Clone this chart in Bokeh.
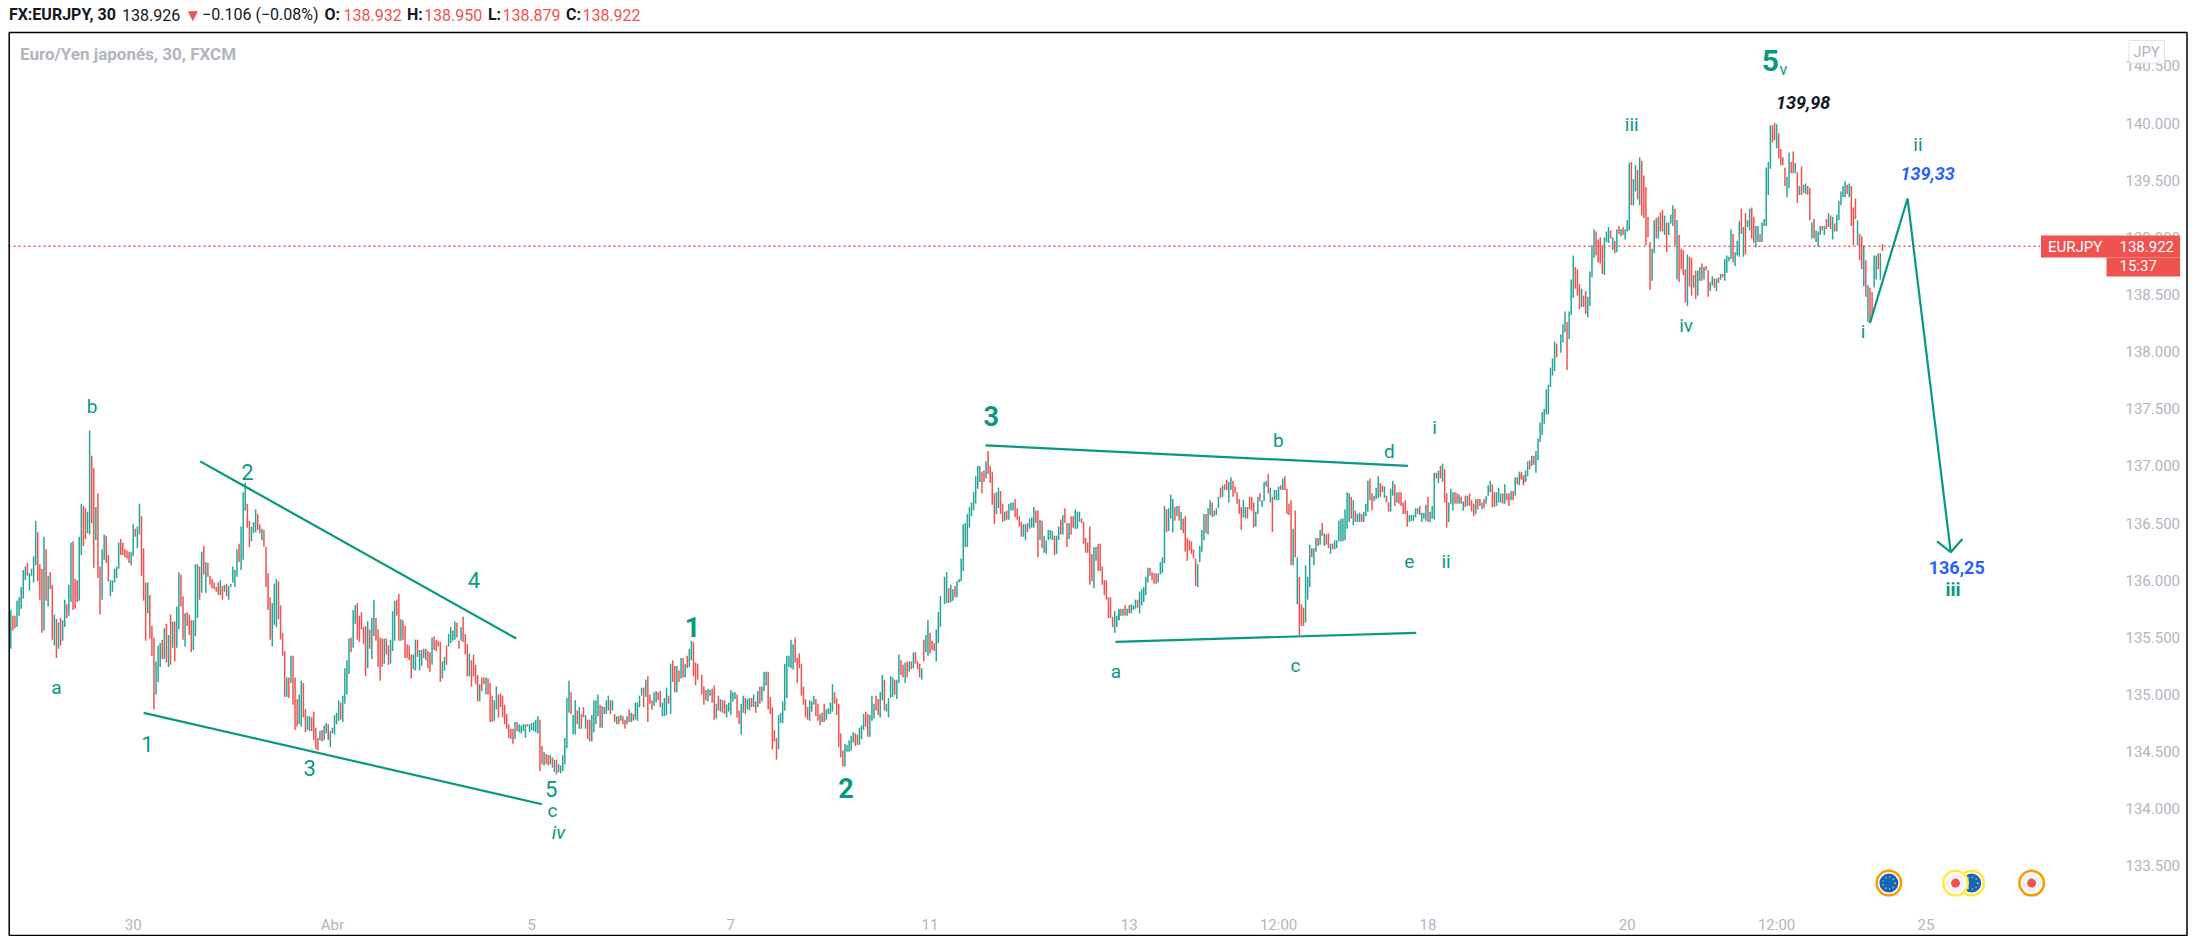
from bokeh.plotting import figure
from bokeh.embed import file_html
from bokeh.resources import INLINE
from bokeh.models import (ColumnDataSource, FixedTicker, Label, BoxAnnotation,
                          NumeralTickFormatter)
from bokeh.core.properties import value

# Price bars: each pair is open, close (open > close draws red)
bars_a = [135.40,135.74, 135.69,135.56, 135.69,135.58, 135.59,135.82, 135.69,135.85, 135.75,135.94, 135.84,136.09, 136.00,136.12,
136.15,136.04, 135.91,136.06, 136.04,136.10, 135.98,136.21, 136.13,136.52, 136.42,135.99, 136.14,135.83, 136.10,135.54,
135.56,136.38, 136.27,135.82, 135.77,136.04, 136.07,135.92, 135.96,135.48, 135.43,135.70, 135.66,135.32, 135.40,135.63,
135.67,135.43, 135.47,135.65, 135.59,135.83, 135.79,135.67, 135.69,135.96, 135.81,136.33, 136.34,135.74, 136.01,135.75,
136.00,135.81, 135.82,136.38, 136.22,136.67, 136.65,136.30, 136.63,136.36, 136.41,136.60, 136.40,137.31, 137.09,136.50,
136.98,136.11, 136.35,136.64, 136.76,136.02, 136.12,135.70, 135.83,136.27, 136.18,136.40, 136.39,136.15, 136.22,135.99,
135.86,136.00, 135.90,136.00, 135.98,136.10, 136.02,136.12, 136.10,136.33, 136.36,136.22, 136.33,136.22, 136.27,136.20,
136.26,136.19, 136.25,136.15, 136.13,136.25, 136.21,136.49, 136.45,136.38, 136.28,136.47, 136.40,136.67, 136.56,136.04,
136.28,135.82, 135.98,135.47, 135.71,135.98, 135.87,135.49, 135.60,135.34, 135.50,134.87, 135.00,135.29, 135.11,135.43,
135.24,135.45, 135.48,135.31, 135.31,135.58, 135.62,135.28, 135.24,135.52, 135.70,135.26, 135.41,135.64, 135.64,135.29,
135.41,135.77, 135.57,136.07, 136.05,135.77, 135.86,135.48, 135.42,135.71, 135.72,135.60, 135.70,135.52, 135.65,135.37,
135.39,135.65, 135.51,136.14, 135.67,136.14, 136.12,135.83, 135.89,136.25, 136.30,136.05, 135.89,136.16, 136.15,136.03,
136.04,135.96, 136.01,135.93, 135.98,135.92, 135.94,135.90, 135.98,135.87, 135.87,136.00, 135.95,135.83, 135.90,135.96,
135.97,135.86, 135.83,135.95, 135.94,135.97, 135.98,136.12, 135.94,136.09, 136.03,136.27, 136.32,136.16, 136.09,136.47,
136.18,136.77, 136.61,136.85, 136.67,136.46, 136.52,136.29, 136.34,136.47, 136.41,136.51, 136.42,136.62, 136.58,136.44,
136.49,136.41, 136.35,136.45, 136.44,136.29, 136.29,135.94, 136.06,135.74, 135.85,135.48, 135.42,135.80, 135.61,135.97,
135.59,136.01, 135.99,135.66, 135.78,135.48, 135.54,135.34, 135.38,134.98, 134.98,135.15, 135.15,134.97, 135.10,135.34,
135.34,134.91, 135.15,134.69, 134.96,134.72, 134.74,135.00, 134.72,135.12, 135.10,134.80, 134.87,134.67, 134.69,134.81]

bars_b = [134.68,134.81, 134.80,134.68, 134.85,134.60, 134.71,134.52, 134.62,134.51, 134.60,134.68, 134.69,134.59, 134.60,134.73,
134.66,134.75, 134.74,134.60, 134.54,134.68, 134.66,134.71, 134.65,134.82, 134.74,134.84, 134.77,134.95, 134.93,134.78,
134.76,134.99, 134.92,135.23, 135.00,135.30, 135.18,135.49, 135.50,135.37, 135.41,135.74, 135.62,135.78, 135.80,135.48,
135.69,135.46, 135.72,135.57, 135.59,135.44, 135.60,135.16, 135.23,135.64, 135.57,135.40, 135.31,135.67, 135.51,135.83,
135.67,135.47, 135.57,135.24, 135.50,135.12, 135.49,135.24, 135.27,135.49, 135.49,135.35, 135.43,135.26, 135.27,135.48,
135.38,135.73, 135.47,135.82, 135.83,135.69, 135.88,135.47, 135.47,135.66, 135.65,135.48, 135.60,135.32, 135.44,135.32,
135.43,135.30, 135.35,135.14, 135.22,135.35, 135.21,135.48, 135.48,135.33, 135.21,135.39, 135.25,135.39, 135.40,135.32,
135.30,135.40, 135.38,135.23, 135.37,135.20, 135.26,135.50, 135.51,135.39, 135.48,135.38, 135.47,135.42, 135.46,135.11,
135.14,135.29, 135.21,135.33, 135.43,135.26, 135.42,135.53, 135.45,135.59, 135.47,135.56, 135.48,135.64, 135.63,135.50,
135.47,135.40, 135.47,135.59, 135.68,135.46, 135.53,135.35, 135.44,135.16, 135.16,135.36, 135.30,135.07, 135.35,135.16,
135.26,135.09, 135.17,134.94, 134.94,135.09, 135.15,135.03, 135.15,135.09, 135.00,135.15, 135.14,135.00, 135.10,134.76,
134.99,134.76, 134.77,134.95, 134.87,135.07, 135.00,134.80, 135.01,134.89, 134.99,134.80, 134.91,134.74, 134.83,134.70,
134.74,134.62, 134.70,134.61, 134.70,134.57, 134.61,134.76, 134.76,134.68, 134.67,134.74, 134.66,134.73, 134.68,134.74,
134.62,134.74, 134.74,134.72, 134.67,134.74, 134.69,134.75, 134.68,134.76, 134.67,134.78, 134.66,134.81, 134.78,134.33,
134.55,134.39, 134.38,134.50, 134.48,134.39, 134.47,134.38, 134.39,134.47, 134.45,134.36, 134.32,134.43, 134.43,134.30,
134.32,134.39, 134.31,134.38, 134.33,134.47, 134.39,134.62, 134.53,134.97, 134.84,135.12, 135.02,134.83, 134.65,134.82,
134.65,134.95, 134.86,134.74, 134.70,134.89, 134.83,134.70, 134.89,134.80, 134.70,134.82, 134.78,134.61, 134.78,134.59,
134.59,134.82, 134.67,134.95, 134.74,134.95, 134.81,135.00, 134.91,134.71, 134.71,134.90, 134.89,134.83, 134.83,134.95,
134.86,134.99, 134.95,134.83, 134.86,134.95, 134.83,134.76, 134.74,134.81, 134.81,134.74, 134.77,134.82, 134.81,134.74,
134.78,134.70, 134.74,134.81, 134.87,134.76, 134.76,134.84, 134.83,134.77, 134.78,134.93, 134.77,134.93, 134.89,134.99,
134.99,135.06, 135.06,134.89, 134.98,135.13, 135.16,134.76, 135.00,134.92, 134.95,134.87, 134.90,135.02, 134.93,135.03,
135.02,134.95, 135.03,134.89, 134.81,134.93, 134.81,134.97, 134.82,135.06, 134.99,134.92, 134.83,135.27, 135.30,135.11,
135.25,135.02, 135.02,135.25, 135.21,135.11, 135.14,135.32, 135.32,135.15, 135.15,135.27, 135.34,135.23, 135.24,135.40,
135.30,135.47, 135.46,135.16, 135.28,135.08, 135.27,135.13]

bars_c = [135.17,135.00, 135.07,134.91, 135.04,134.95, 134.94,135.05, 134.99,135.04, 135.05,134.93, 135.08,134.78, 134.79,134.92,
134.99,134.86, 134.85,134.96, 134.95,134.84, 134.95,134.83, 134.80,134.91, 134.85,134.93, 134.82,135.04, 134.94,135.02,
134.96,135.02, 135.00,134.80, 134.86,134.74, 134.65,134.92, 134.84,134.99, 134.97,134.83, 134.87,134.96, 134.86,134.97,
134.97,134.89, 134.89,135.00, 134.94,134.84, 134.89,135.03, 135.07,134.92, 134.94,135.07, 135.03,135.20, 135.08,135.20,
135.20,134.87, 134.98,134.83, 134.89,134.52, 134.69,134.59, 134.62,134.43, 134.52,134.82, 134.75,134.84, 134.75,134.94,
134.86,135.27, 134.97,135.34, 135.24,135.34, 135.23,135.48, 135.22,135.44, 135.50,135.28, 135.32,135.10, 135.36,135.23,
135.27,134.99, 135.07,134.91, 134.96,134.80, 134.89,134.78, 134.77,134.95, 134.85,134.94, 134.91,134.99, 134.96,134.81,
134.92,134.77, 134.83,134.73, 134.76,134.84, 134.92,134.76, 134.78,134.87, 134.83,134.88, 134.83,134.93, 134.85,135.09,
135.02,134.92, 134.97,134.82, 134.92,134.54, 134.66,134.45, 134.51,134.37, 134.37,134.57, 134.50,134.56, 134.50,134.60,
134.51,134.64, 134.58,134.67, 134.66,134.55, 134.65,134.56, 134.56,134.71, 134.61,134.73, 134.69,134.83, 134.85,134.72,
134.83,134.63, 134.63,134.82, 134.77,134.99, 134.79,134.92, 134.99,134.86, 134.96,134.82, 134.80,135.02, 134.95,135.17,
135.13,134.86, 134.85,134.92, 134.80,134.97, 134.97,135.16, 134.98,135.15, 135.13,135.00, 134.96,135.13, 135.10,135.35,
135.30,135.17, 135.26,135.15, 135.10,135.28, 135.29,135.15, 135.20,135.29, 135.29,135.22, 135.23,135.37, 135.37,135.27,
135.29,135.22, 135.27,135.15, 135.13,135.23, 135.48,135.29, 135.37,135.52, 135.34,135.65, 135.54,135.36, 135.47,135.39,
135.45,135.38, 135.29,135.57, 135.45,135.72, 135.59,135.86]

bars_d = [135.79,136.03, 135.80,136.07, 135.93,135.80, 135.81,135.96, 135.82,135.92, 135.95,135.85, 135.85,135.99, 135.98,136.01,
135.99,136.19, 136.08,136.49, 136.29,136.50, 136.29,136.58, 136.46,136.64, 136.56,136.68, 136.61,136.77, 136.67,136.91,
136.80,137.00, 136.86,137.00, 136.95,136.76, 136.96,136.86, 136.89,137.04, 137.13,136.93, 137.00,136.85, 136.95,136.66,
136.76,136.49, 136.58,136.77, 136.63,136.81, 136.78,136.58, 136.67,136.51, 136.52,136.60, 136.61,136.53, 136.53,136.67,
136.61,136.68, 136.61,136.68, 136.71,136.55, 136.63,136.53, 136.56,136.47, 136.51,136.38, 136.38,136.49, 136.35,136.49,
136.50,136.42, 136.45,136.54, 136.46,136.55, 136.46,136.64, 136.61,136.50, 136.61,136.20, 136.35,136.53, 136.52,136.28,
136.24,136.39, 136.23,136.35, 136.35,136.44, 136.36,136.44, 136.35,136.43, 136.39,136.22, 136.23,136.39, 136.35,136.47,
136.53,136.40, 136.40,136.57, 136.63,136.50, 136.50,136.29, 136.36,136.50, 136.56,136.40, 136.56,136.46, 136.45,136.62,
136.45,136.60, 136.51,136.60, 136.54,136.50, 136.51,136.32, 136.37,136.24, 136.33,136.24, 136.47,135.96, 136.23,135.99,
135.93,136.29, 136.17,136.29, 136.32,136.08, 136.32,136.08, 136.12,135.96, 136.00,135.87, 136.00,135.83, 135.85,135.67,
135.85,135.67, 135.68,135.59, 135.54,135.73, 135.59,135.69, 135.65,135.74]

bars_e = [135.65,135.75, 135.75,135.69, 135.69,135.75, 135.78,135.69, 135.69,135.75, 135.78,135.71, 135.71,135.79, 135.74,135.78,
135.75,135.83, 135.83,135.76, 135.71,135.90, 135.78,135.92, 135.81,135.94, 135.87,136.03, 135.98,136.11, 136.11,136.04,
136.07,136.00, 136.06,135.97, 136.06,135.97, 135.98,136.06, 136.05,136.16, 136.06,136.20, 136.15,136.65, 136.62,136.42,
136.43,136.63, 136.54,136.75, 136.42,136.71, 136.64,136.52, 136.56,136.65, 136.65,136.52, 136.44,136.60, 136.54,136.41,
136.56,136.25, 136.37,136.17, 136.35,136.26, 136.34,136.23, 136.27,136.19, 136.19,135.95, 135.94,136.14, 136.16,136.30,
136.25,136.44, 136.35,136.58, 136.58,136.41, 136.40,136.63, 136.57,136.70, 136.68,136.55, 136.56,136.61, 136.57,136.63,
136.63,136.73, 136.81,136.72, 136.73,136.83, 136.84,136.79, 136.88,136.79, 136.68,136.86, 136.79,136.90, 136.87,136.73,
136.82,136.76, 136.77,136.67, 136.71,136.58, 136.64,136.44, 136.55,136.70, 136.54,136.64, 136.64,136.54, 136.73,136.62,
136.73,136.61, 136.68,136.46, 136.47,136.60, 136.58,136.73, 136.76,136.69, 136.64,136.70, 136.69,136.86, 136.82,136.87,
136.93,136.76, 136.68,136.81, 136.73,136.42, 136.70,136.79, 136.70,136.79, 136.70,136.82, 136.83,136.79, 136.79,136.89,
136.91,136.79, 136.80,136.58, 136.67,136.57, 136.70,136.13, 136.13,136.45, 136.61,136.20, 135.79,136.20, 136.03,135.52,
135.79,135.60, 135.76,135.60, 135.63,136.13, 135.83,136.03, 135.94,136.31, 136.28,136.20, 136.13,136.28, 136.25,136.37,
136.37,136.30, 136.31,136.44, 136.50,136.39, 136.30,136.41, 136.40,136.31, 136.41,136.28, 136.23,136.32, 136.32,136.27,
136.27,136.35, 136.28,136.35, 136.34,136.52, 136.34,136.54, 136.34,136.54, 136.35,136.62, 136.45,136.77, 136.51,136.76,
136.73,136.54, 136.48,136.70, 136.61,136.51, 136.51,136.58, 136.51,136.59, 136.58,136.51, 136.51,136.60, 136.56,136.67,
136.60,136.87, 136.89,136.70, 136.76,136.61, 136.69,136.74, 136.71,136.81, 136.72,136.91, 136.85,136.73, 136.83,136.77,
136.72,136.82, 136.74,136.68, 136.68,136.60, 136.60,136.80, 136.74,136.87, 136.84,136.65, 136.68,136.77, 136.77,136.67,
136.77,136.65, 136.68,136.58, 136.70,136.58, 136.61,136.47, 136.51,136.57, 136.52,136.57, 136.52,136.57, 136.55,136.63,
136.58,136.63, 136.65,136.57, 136.51,136.59, 136.54,136.59, 136.52,136.66, 136.73,136.51, 136.51,136.60, 136.54,136.65,
136.53,136.94, 136.94,136.89, 136.85,136.96, 137.00,136.89, 136.86,137.02, 136.97,136.68, 136.76,136.46, 136.51,136.68,
136.67,136.80, 136.61,136.77, 136.77,136.67, 136.76,136.67, 136.67,136.75, 136.73,136.67, 136.61,136.69, 136.74,136.64,
136.65,136.74, 136.76,136.65, 136.70,136.60, 136.67,136.56, 136.58,136.71, 136.71,136.62, 136.71,136.65, 136.62,136.68,
136.71,136.63, 136.67,136.74, 136.74,136.83, 136.77,136.87, 136.84,136.64, 136.77,136.64, 136.65,136.77, 136.68,136.81,
136.68,136.76, 136.76,136.67, 136.67,136.84, 136.76,136.70, 136.76,136.65, 136.70,136.78, 136.78,136.70, 136.74,136.90,
136.90,136.84, 136.83,136.95, 136.93,136.88, 136.92,136.83, 136.87,136.92]

bars_f = [136.95,136.89, 136.90,136.84, 136.86,136.96, 136.91,137.04, 137.05,136.97, 137.00,137.09, 137.09,137.01, 136.94,137.13,
137.05,137.24, 137.21,137.38, 137.27,137.47, 137.37,137.50, 137.45,137.67, 137.45,137.71, 137.69,137.86, 137.79,137.94,
137.83,138.09, 138.07,137.95]

bars_g = [137.99,138.15, 138.08,138.24, 138.17,138.35, 138.26,137.84, 138.11,138.35, 138.32,138.63, 138.47,138.84, 138.74,138.55,
138.72,138.49, 138.59,138.37, 138.39,138.55, 138.49,138.39, 138.53,138.33, 138.30,138.48, 138.40,138.70, 138.65,138.93,
138.82,139.07, 139.05,138.84, 138.98,138.78, 139.00,138.77, 138.93,138.68, 138.67,139.00, 138.96,139.05, 138.95,139.09,
139.06,138.99, 138.89,139.00, 138.97,138.86, 138.87,139.07, 139.10,139.03, 139.01,139.07, 139.09,139.02, 138.98,139.07,
139.05,139.15, 139.06,139.65, 139.66,139.28, 139.28,139.51, 139.40,139.63, 139.59,139.33, 139.28,139.70, 139.67,139.19,
139.54,139.17, 139.44,138.93, 139.18,139.00, 138.96,138.54, 138.62,138.90, 138.86,139.15, 139.17,138.99, 138.99,139.18,
139.22,139.05, 139.24,139.05, 139.02,139.19, 139.13,138.87, 139.02,139.13, 139.12,139.20, 139.10,139.28, 139.25,138.93,
138.63,139.15, 139.02,138.61, 138.90,138.72, 138.89,138.67, 138.72,138.43, 138.40,138.85, 138.83,138.57, 138.82,138.49,
138.56,138.67, 138.71,138.46, 138.49,138.71, 138.62,138.74, 138.77,138.62, 138.63,138.74, 138.75,138.71, 138.71,138.48,
138.53,138.61, 138.58,138.66, 138.64,138.56, 138.53,138.64, 138.65,138.60, 138.63,138.68, 138.68,138.65, 138.62,138.81,
138.69,138.84, 138.79,138.83, 138.81,139.07, 139.03,138.78, 138.75,138.87, 138.84,138.97, 138.83,139.14, 139.25,139.03,
138.83,139.09, 139.21,138.85, 139.09,139.15, 139.06,139.25, 139.26,138.99, 139.18,138.95, 138.91,139.10, 138.96,139.10,
139.03,138.96, 138.96,139.13, 139.10,139.16, 139.10,139.61, 139.37,139.66, 139.60,139.98, 139.98,139.83, 140.00,139.85,
139.78,139.99, 139.91,139.69, 139.77,139.63, 139.70,139.63, 139.61,139.45, 139.35,139.53, 139.43,139.74, 139.66,139.56,
139.75,139.56, 139.56,139.65, 139.57,139.30, 139.37,139.45, 139.62,139.37, 139.39,139.46, 139.38,139.47, 139.45,139.37,
139.43,139.15, 138.99,139.13, 139.16,138.99, 138.96,139.06, 138.92,139.05, 139.02,139.10, 139.10,139.06, 139.02,139.10,
139.16,139.07, 139.09,139.21, 139.19,139.07, 138.98,139.18, 139.12,139.05, 139.05,139.20, 139.15,139.32, 139.28,139.40,
139.35,139.45, 139.35,139.49, 139.46,139.38, 139.35,139.47, 139.45,139.10, 139.26,138.93, 139.34,139.16, 138.93,139.15,
139.03,138.80, 139.01,138.72, 138.57,138.93, 138.80,138.48, 138.26,138.58, 138.56,138.26, 138.52,138.33, 138.56,138.84,
138.63,138.84, 138.86,138.72, 138.63,138.86, 138.94,138.88]

# Bar number at which each stretch of bars starts on the time scale
bar_stretches = [bars_a, bars_b, bars_c, bars_d, bars_e, bars_f, bars_g]
stretch_first_bar = [0, 144, 333, 450, 534, 728, 747]

# Axes
y_tick_values = [133.5, 134.0, 134.5, 135.0, 135.5, 136.0, 136.5, 137.0, 137.5, 138.0, 138.5, 139.0, 139.5, 140.0, 140.5]
x_tick_bars = [59, 155, 251, 347, 443, 539, 611, 683, 779, 851, 923]
x_tick_labels = ["30", "Abr", "5", "7", "11", "13", "12:00", "18", "20", "12:00", "25"]

# Drawn trend lines: (bar, price) end points
trend_lines = [
    ([64, 256], [134.84, 134.04]),
    ([91.3, 243.6], [137.04, 135.49]),
    ([469.7, 673.3], [137.18, 137.00]),
    ([532.4, 677.3], [135.46, 135.54]),
    ([896, 914.1, 934.9], [138.25, 139.34, 136.245]),
    ([928.3, 934.9, 940.5], [136.34, 136.245, 136.36]),
]

# Wave-count notes
TEAL = "#089981"
BLUE = "#2962FF"
note_text = ["b", "a", "2", "1", "3", "4", "5", "c", "iv", "1", "2", "3", "a", "c", "b", "d", "e", "ii", "i",
             "iii", "iv", "i", "ii", "iii", "5", "v", "139,98", "139,33", "136,25"]
note_bar = [39.2, 22, 114, 65.9, 144, 223.2, 260.4, 261, 263.9, 328.5, 402.5, 472.5, 532.6, 619.1, 610.9, 664.4, 674,
            691.7, 686.1, 781.2, 807.4, 892.7, 919.1, 936, 848, 854.3, 863.8, 923.8, 937.8]
note_price = [137.52, 135.06, 136.945, 134.57, 134.355, 136.00, 134.17, 133.985, 133.79, 135.595, 134.18, 137.44, 135.20,
              135.25, 137.22, 137.13, 136.16, 136.16, 137.34, 139.99, 138.23, 138.18, 139.81, 135.92, 140.55, 140.465,
              140.18, 139.56, 136.11]
note_size = ["19px", "19px", "22px", "22px", "22px", "22px", "22px", "19px", "19px", "27px", "27px", "27px", "19px", "19px",
             "19px", "19px", "19px", "19px", "19px", "19px", "19px", "19px", "19px", "19px", "30px", "16px", "18px", "18px", "18px"]
note_style = ["normal"] * 8 + ["italic", "bold", "bold", "bold"] + ["normal"] * 11 + ["bold", "bold", "normal",
              "bold italic", "bold italic", "bold"]
note_color = [TEAL] * 26 + ["#131722", BLUE, BLUE]

# Economic-event badges
event_eu_bar = [905.1, 945]
event_eu_ring = ["#FF9800", "#FFEB3B"]
event_jp_bar = [937.2, 973.9]
event_jp_ring = ["#FFEB3B", "#FF9800"]
event_price = 133.35
last_price = 138.922
last_price_line_bars = [-1.1, 978]

# Bars
xs, opens, closes = [], [], []
for first, flat in zip(stretch_first_bar, bar_stretches):
    o = flat[0::2]
    c = flat[1::2]
    xs += [first + i for i in range(len(o))]
    opens += o
    closes += c
cols = ["#26A69A" if c >= o else "#EF5350" for o, c in zip(opens, closes)]
src = ColumnDataSource(dict(x=xs, o=opens, c=closes, color=cols))

# The plot frame fills the whole canvas; the axes are pulled back inside it
p = figure(width=2193, height=936, x_range=(-4.96, 1051.9), y_range=(132.883, 141.072),
           output_backend="svg", toolbar_location=None, y_axis_location="right",
           min_border_left=0, min_border_right=0, min_border_top=0, min_border_bottom=0,
           background_fill_color="white", border_fill_color="white")
p.outline_line_color = None
p.grid.visible = False

GREY = "#B2B5BE"
FONT = "Roboto"
for ax in (p.xaxis[0], p.yaxis[0]):
    ax.axis_line_color = None
    ax.major_tick_line_color = None
    ax.minor_tick_line_color = None
    ax.major_label_text_color = GREY
    ax.major_label_text_font = FONT
    ax.major_label_text_font_size = "15px"
p.yaxis[0].ticker = FixedTicker(ticks=y_tick_values)
p.yaxis[0].formatter = NumeralTickFormatter(format="0.000")
p.yaxis[0].major_label_standoff = -74
p.xaxis[0].ticker = FixedTicker(ticks=x_tick_bars)
p.xaxis[0].major_label_overrides = dict(zip(x_tick_bars, x_tick_labels))
p.xaxis[0].major_label_standoff = -27

p.segment("x", "o", "x", "c", source=src, color="color", line_width=1.5)

p.line(last_price_line_bars, [last_price, last_price], line_color="#EF5350", line_width=1.3, line_dash="2 3")

for lx, ly in trend_lines:
    p.line(lx, ly, line_color=TEAL, line_width=2.2)

nsrc = ColumnDataSource(dict(x=note_bar, y=note_price, t=note_text, s=note_size, f=note_style, c=note_color))
p.text("x", "y", text="t", source=nsrc, text_font=value(FONT), text_font_size="s", text_font_style="f",
       text_color="c", text_align="center", text_baseline="middle")

# Event badges
p.scatter(event_eu_bar, [event_price] * 2, size=27, marker="circle", fill_color=event_eu_ring, line_color=None)
p.scatter(event_eu_bar, [event_price] * 2, size=22, marker="circle", fill_color="white", line_color=None)
p.scatter(event_eu_bar, [event_price] * 2, size=19, marker="circle", fill_color="#1565C0", line_color=None)
p.scatter(event_eu_bar, [event_price] * 2, size=12, marker="circle", fill_color=None, line_color="#FFD600", line_dash="1 3", line_width=1.5)
p.scatter(event_jp_bar, [event_price] * 2, size=27, marker="circle", fill_color=event_jp_ring, line_color=None)
p.scatter(event_jp_bar, [event_price] * 2, size=22, marker="circle", fill_color="white", line_color=None)
p.scatter(event_jp_bar, [event_price] * 2, size=19, marker="circle", fill_color="#F0F3FA", line_color=None)
p.scatter(event_jp_bar, [event_price] * 2, size=9, marker="circle", fill_color="#EF5350", line_color=None)


# Screen helpers: page pixel -> offset from the plot frame's lower-left corner
def sx(px):
    return px


def sy(py):
    return 936 - py


def lab(text, px, py, color, size="16px", style="normal", align="left"):
    p.add_layout(Label(x=sx(px), y=sy(py), x_units="screen", y_units="screen", text=text, text_color=color,
                       text_font=FONT, text_font_size=size, text_font_style=style, text_align=align,
                       text_baseline="middle"))


def box(l, r, t, b, **kw):
    p.add_layout(BoxAnnotation(left=sx(l), right=sx(r), top=sy(t), bottom=sy(b), left_units="screen",
                               right_units="screen", top_units="screen", bottom_units="screen", **kw))


# Outer frame
box(8.7, 2186.5, 32, 935, fill_alpha=0, line_color="black", line_width=1.5, line_alpha=1)

# Last-price tag
box(2040.5, 2179.6, 235, 257, fill_color="#EF5350", fill_alpha=1, line_color="#EF5350", line_alpha=1, line_width=0)
box(2106, 2179.6, 257, 276, fill_color="#EF5350", fill_alpha=1, line_color="#EF5350", line_alpha=1, line_width=0)
lab("EURJPY", 2047.5, 246, "white", "15px")
lab("138.922", 2119, 246, "white", "15px")
lab("15:37", 2119, 265, "white", "15px")

# Currency chip
box(2128.5, 2164, 40, 62.5, fill_color="white", fill_alpha=0.85, line_color="#E0E3EB", line_alpha=1, line_width=1)
lab("JPY", 2146, 51, GREY, "15px", align="center")

# Titles
lab("Euro/Yen japonés, 30, FXCM", 19.5, 53, GREY, "17px", "bold")
RED = "#EF5350"
DARK = "#131722"
lab("FX:EURJPY, 30", 8.4, 14, DARK, "16px", "bold")
lab("138.926", 121.5, 14, DARK, "16px")
lab("▼", 184, 14, RED, "17px")
lab("−0.106 (−0.08%)", 201.6, 14, DARK, "16px")
lab("O:", 324, 14, DARK, "16px", "bold")
lab("138.932", 343, 14, RED, "16px")
lab("H:", 406.4, 14, DARK, "16px", "bold")
lab("138.950", 423.6, 14, RED, "16px")
lab("L:", 487.4, 14, DARK, "16px", "bold")
lab("138.879", 501.9, 14, RED, "16px")
lab("C:", 565.6, 14, DARK, "16px", "bold")
lab("138.922", 581.9, 14, RED, "16px")

open("out.html", "w").write(file_html(p, INLINE))
